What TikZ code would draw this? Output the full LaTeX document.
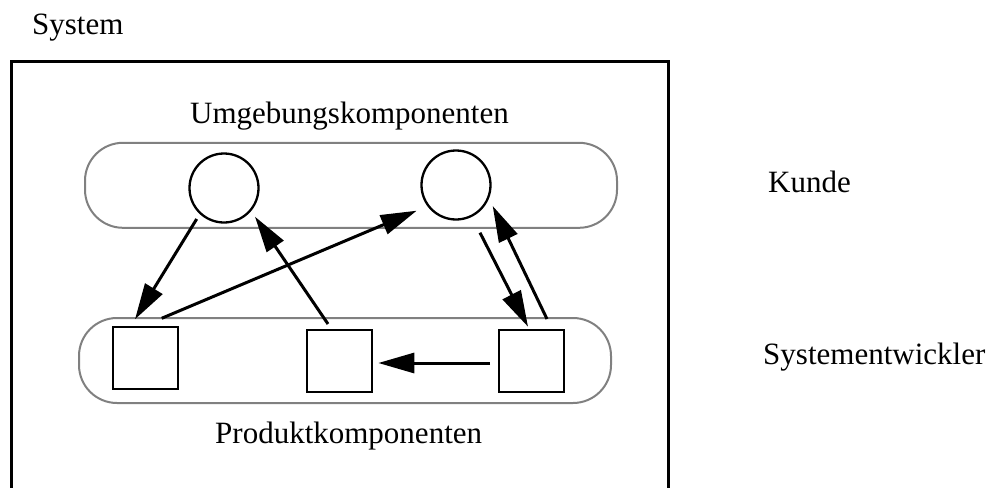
\documentclass[tikz,border=0pt]{standalone}
\usepackage{fontspec}
\setmainfont{Liberation Serif}
\usetikzlibrary{arrows.meta}
\begin{document}
\begin{tikzpicture}[x=1pt,y=-1pt,
  lbl/.style={inner sep=0pt,anchor=base west,font=\fontsize{31}{37}\selectfont},
  groupbox/.style={draw=black!50,line width=2pt,rounded corners=38pt,minimum width=532pt,minimum height=85pt,inner sep=0pt},
  env/.style={draw,circle,line width=2.3pt,minimum size=69pt,inner sep=0pt},
  prod/.style={draw,rectangle,line width=2.5pt,minimum width=65pt,minimum height=62pt,inner sep=0pt},
  conn/.style={line width=3pt,-{Triangle[length=36pt,width=20pt]}}]
\useasboundingbox (0,0) rectangle (992,487);
% outer system box (open at bottom)
\draw[line width=3pt] (11,490) -- (11,61) -- (668,61) -- (668,490);
% labels
\node[lbl] (lsys) at (32,35) {System};
\node[lbl] (lumg) at (190,123) {Umgebungskomponenten};
\node[lbl] (lprod) at (215,443) {Produktkomponenten};
\node[lbl] (lkunde) at (768,192) {Kunde};
\node[lbl] (lse) at (763,364) {Systementwickler};
% groups
\node[groupbox] (genv) at (351,185.3) {};
\node[groupbox] (gprod) at (345,360.5) {};
% components
\node[env] (c1) at (224,188) {};
\node[env] (c2) at (456,185) {};
\node[prod] (sq1) at (145.5,358) {};
\node[prod] (sq2) at (339.5,361) {};
\node[prod] (sq3) at (531.5,361) {};
% connectors
\draw[conn] ([shift={(-27.3,31)}]c1.center) -- ([shift={(-10.5,-38.7)}]sq1.center);
\draw[conn] ([shift={(16.2,-39.7)}]sq1.center) -- ([shift={(-39.3,25.7)}]c2.center);
\draw[conn] ([shift={(-11.5,-37)}]sq2.center) -- ([shift={(31,28.7)}]c1.center);
\draw[conn] ([shift={(24,47.7)}]c2.center) -- ([shift={(-3.5,-34.3)}]sq3.center);
\draw[conn] ([shift={(15.5,-42)}]sq3.center) -- ([shift={(36.7,21)}]c2.center);
\draw[conn] ([shift={(-41.5,2)}]sq3.center) -- ([shift={(38.8,2)}]sq2.center);
\end{tikzpicture}
\end{document}
